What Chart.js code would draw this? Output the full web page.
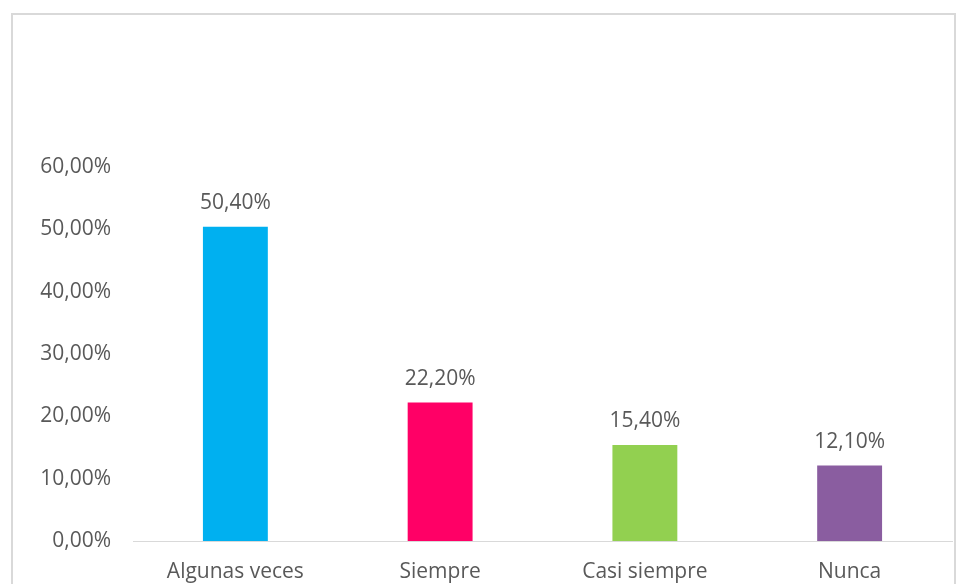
<!DOCTYPE html>
<html>
<head>
<meta charset="utf-8">
<script src="https://cdn.jsdelivr.net/npm/chart.js@4.4.1/dist/chart.umd.min.js"></script>
<style>
  html, body { margin: 0; padding: 0; background: #fff; }
  #frame {
    position: absolute; left: 11px; top: 13px; width: 945px; height: 600px;
    border: 2px solid #d9d9d9; box-sizing: border-box;
  }
  #wrap { position: absolute; left: 0; top: 0; width: 958px; height: 584px; }
</style>
</head>
<body>
<div id="frame"></div>
<div id="wrap"><canvas id="myChart" width="958" height="584"></canvas></div>
<script>
const categories = ['Algunas veces', 'Siempre', 'Casi siempre', 'Nunca'];
const values = [50.4, 22.2, 15.4, 12.1];
const barColors = ['#00B0F0', '#FF0066', '#92D050', '#8A5DA0'];
const yTicks = [0, 10, 20, 30, 40, 50, 60];

const fmt = v => v.toFixed(2).replace('.', ',') + '%';
const textColor = '#595959';
const fontFamily = '"Open Sans", sans-serif';
const fontSize = 21;

// simple value labels above bars
const valueLabels = {
  id: 'valueLabels',
  afterDatasetsDraw(chart) {
    const ctx = chart.ctx;
    const meta = chart.getDatasetMeta(0);
    ctx.save();
    ctx.font = fontSize + 'px ' + fontFamily;
    ctx.fillStyle = textColor;
    ctx.textAlign = 'center';
    ctx.textBaseline = 'alphabetic';
    meta.data.forEach((bar, i) => {
      ctx.fillText(fmt(values[i]), bar.x, bar.y - 18);
    });
    ctx.restore();
  }
};

const config = {
  type: 'bar',
  data: {
    labels: categories,
    datasets: [{
      data: values,
      backgroundColor: barColors,
      borderWidth: 0,
      categoryPercentage: 1,
      barPercentage: 0.317
    }]
  },
  options: {
    responsive: false,
    animation: false,
    layout: { padding: { top: 167, right: 6, left: 0, bottom: 0 } },
    plugins: { legend: { display: false }, tooltip: { enabled: false } },
    scales: {
      x: {
        grid: { display: false, drawTicks: false },
        border: { display: true, color: '#d9d9d9', width: 1 },
        ticks: { color: textColor, font: { family: fontFamily, size: fontSize }, padding: 18, maxRotation: 0 },
        afterFit(scale) { scale.height = 43; }
      },
      y: {
        min: 0,
        max: 60,
        afterBuildTicks(scale) { scale.ticks = yTicks.map(v => ({ value: v })); },
        grid: { display: false, drawTicks: false },
        border: { display: false },
        ticks: {
          color: textColor,
          font: { family: fontFamily, size: fontSize },
          padding: 22,
          callback: v => fmt(v)
        },
        afterFit(scale) { scale.width = 133; }
      }
    }
  },
  plugins: [valueLabels]
};

var myChart = new Chart(document.getElementById('myChart'), config);
</script>
</body>
</html>
